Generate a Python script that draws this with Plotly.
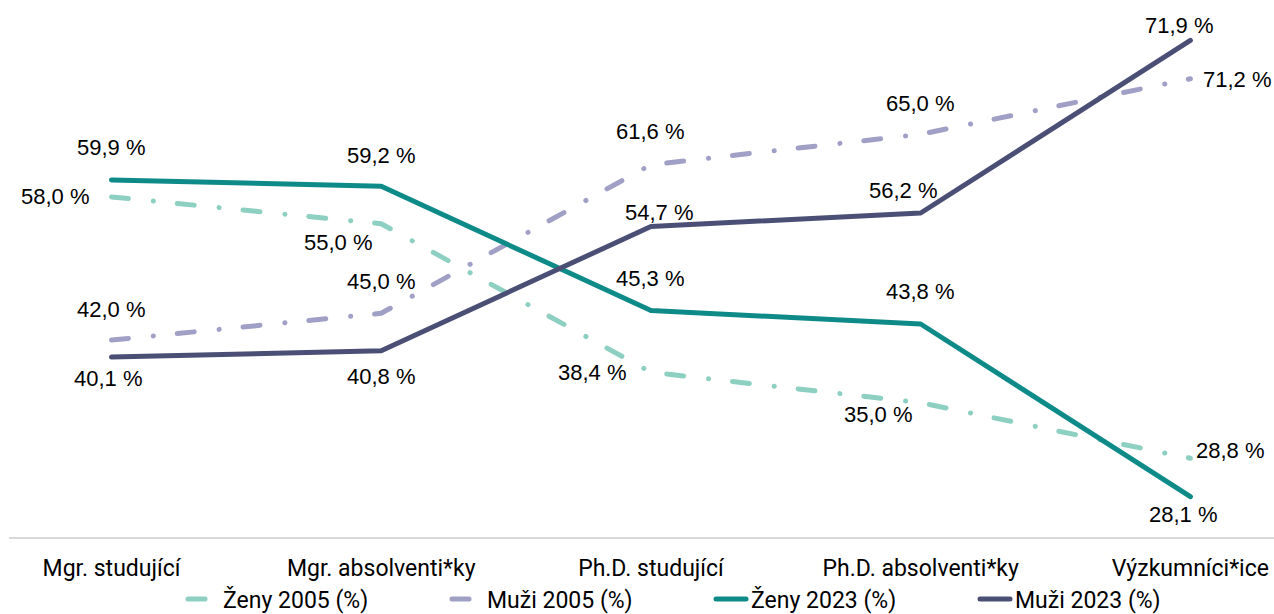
import plotly.graph_objects as go

categories = ["Mgr. studující", "Mgr. absolventi*ky", "Ph.D. studující", "Ph.D. absolventi*ky", "Výzkumníci*ice"]

zeny_2005 = [58.0, 55.0, 38.4, 35.0, 28.8]
muzi_2005 = [42.0, 45.0, 61.6, 65.0, 71.2]
zeny_2023 = [59.9, 59.2, 45.3, 43.8, 24.5]
muzi_2023 = [40.1, 40.8, 54.7, 56.2, 75.5]

# data-label texts as printed on the chart
zeny_2005_labels = ["58,0 %", "55,0 %", "38,4 %", "35,0 %", "28,8 %"]
muzi_2005_labels = ["42,0 %", "45,0 %", "61,6 %", "65,0 %", "71,2 %"]
zeny_2023_labels = ["59,9 %", "59,2 %", "45,3 %", "43,8 %", "28,1 %"]
muzi_2023_labels = ["40,1 %", "40,8 %", "54,7 %", "56,2 %", "71,9 %"]

series_names = ["Ženy 2005 (%)", "Muži 2005 (%)", "Ženy 2023 (%)", "Muži 2023 (%)"]

# styles
colors = ["#8DCFC1", "#A09FC6", "#0E8B89", "#4B4F76"]
dashes = ["17px,25px,0.1px,24px", "17px,25px,0.1px,24px", "solid", "solid"]
# label offsets in pixels (dx, dy with dy positive = down)
offsets = [
    [(-56, 0), (-43, 19), (-58, 0), (-42, 12), (40, -8)],
    [(0, -31), (0, -32), (0, -33), (0, -31), (47, 1)],
    [(0, -32), (0, -31), (0, -32), (0, -32), (-7, 18)],
    [(-3, 21), (0, 26), (9, -14), (-17, -23), (-11, -15)],
]

values = [zeny_2005, muzi_2005, zeny_2023, muzi_2023]
labels = [zeny_2005_labels, muzi_2005_labels, zeny_2023_labels, muzi_2023_labels]
xpos = list(range(len(categories)))

fig = go.Figure()
annotations = []
for i, name in enumerate(series_names):
    fig.add_trace(go.Scatter(
        x=xpos, y=values[i], name=name, mode="lines",
        line=dict(color=colors[i], width=5, dash=dashes[i]),
        hoverinfo="skip",
    ))
    for j, (xv, yv) in enumerate(zip(xpos, values[i])):
        dx, dy = offsets[i][j]
        annotations.append(dict(
            x=xv, y=yv, xref="x", yref="y", text=labels[i][j],
            showarrow=False, xanchor="center", yanchor="middle",
            xshift=dx, yshift=-dy,
            font=dict(family="Liberation Sans, Arial", size=22, color="#000000"),
        ))

fig.update_layout(
    width=1274, height=614,
    margin=dict(l=9, r=0, t=0, b=77),
    paper_bgcolor="white", plot_bgcolor="white",
    showlegend=True,
    legend=dict(
        orientation="h", xref="container", x=(183 / 1274), xanchor="left",
        yref="container", y=(15 / 614), yanchor="middle",
        font=dict(family="Roboto", size=23, color="#000000"),
        entrywidth=219, entrywidthmode="pixels",
        itemwidth=30, bgcolor="rgba(0,0,0,0)",
    ),
    annotations=annotations,
    xaxis=dict(
        range=[-0.38, 4.31], tickmode="array", tickvals=xpos, ticktext=categories,
        showgrid=False, zeroline=False, showline=True, linecolor="#D9D9D9", linewidth=2,
        ticks="", ticklabelstandoff=9, automargin=False,
        tickfont=dict(family="Roboto", size=23, color="#000000"),
        fixedrange=True,
    ),
    yaxis=dict(range=[20, 80], visible=False, showgrid=False, fixedrange=True, automargin=False),
)

post = ("document.body.style.margin='0';"
        "document.querySelectorAll('path.js-line').forEach(function(p){"
        "p.style.strokeLinecap='round';p.style.strokeLinejoin='round';});")
fig.write_html("out.html", post_script=post, config={"displayModeBar": False})
